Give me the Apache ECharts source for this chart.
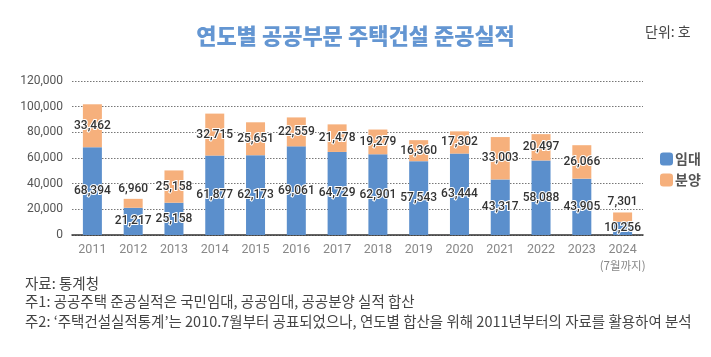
<!DOCTYPE html>
<html><head><meta charset="utf-8">
<script src="https://cdn.jsdelivr.net/npm/echarts@6/dist/echarts.min.js"></script>
<style>html,body{margin:0;padding:0;background:#fff}#c{width:711px;height:357px}</style>
</head><body><div id="c"></div>
<script>
const years = ['2011','2012','2013','2014','2015','2016','2017','2018','2019','2020','2021','2022','2023','2024'];
const rental = [68394, 21217, 25158, 61877, 62173, 69061, 64729, 62901, 57543, 63444, 43317, 58088, 43905, 10256];
const sale = [33462, 6960, 25158, 32715, 25651, 22559, 21478, 19279, 16360, 17302, 33003, 20497, 26066, 7301];
const saleLabelTop = ['2012','2024'];
const yTicks = [0, 20000, 40000, 60000, 80000, 100000, 120000];

const FONT = 'Roboto, "Noto Sans CJK KR", sans-serif';
const KFONT = '"Noto Sans CJK KR", sans-serif';
const labelStyle = {
  show: true, position: 'inside', color: '#333', fontSize: 12, fontFamily: FONT, fontWeight: 500,
  textBorderColor: '#fff', textBorderWidth: 2,
  formatter: p => p.value.toLocaleString('en-US')
};
const chart = echarts.init(document.getElementById('c'));
chart.setOption({
  animation: false,
  title: {
    text: '연도별 공공부문 주택건설 준공실적', left: 'center', top: 20,
    textStyle: { color: '#6496d2', fontSize: 22, fontWeight: 900, fontFamily: KFONT }
  },
  legend: {
    orient: 'vertical', left: 655, top: 147, itemWidth: 13, itemHeight: 13, itemGap: 7,
    textStyle: { color: '#555', fontSize: 14, fontWeight: 'bold', fontFamily: KFONT, padding: [0,0,0,-3] },
    data: ['임대', '분양']
  },
  grid: { left: 72, right: 68, top: 81, bottom: 122 },
  xAxis: {
    type: 'category', data: years,
    axisLine: { lineStyle: { color: '#333', width: 1.5 } },
    axisTick: { show: false },
    axisLabel: {
      interval: 0,
      color: '#888', fontSize: 12.5, fontFamily: FONT, margin: 7, lineHeight: 16,
      formatter: v => v === '2024' ? '2024\n{s|(7월까지)}' : v,
      rich: { s: { fontSize: 11.5, color: '#888', fontFamily: KFONT, lineHeight: 16 } }
    }
  },
  yAxis: {
    type: 'value', min: 0, max: 120000, interval: 20000,
    axisLine: { show: false }, axisTick: { show: false },
    axisLabel: { color: '#555', fontSize: 12, fontFamily: FONT, margin: 9,
      formatter: v => yTicks.includes(v) ? v.toLocaleString('en-US') : '' },
    splitLine: { lineStyle: { type: [1.5, 1.5], color: '#777', width: 1 } }
  },
  series: [
    { name: '임대', type: 'bar', stack: 't', barWidth: 19, data: rental,
      itemStyle: { color: '#5b8fcc' }, label: labelStyle },
    { name: '분양', type: 'bar', stack: 't', barWidth: 19,
      data: sale.map((v, i) => saleLabelTop.includes(years[i]) ? { value: v, label: { position: 'top', distance: 4 } } : v),
      itemStyle: { color: '#f6b07c' }, label: labelStyle }
  ],
  graphic: [
    { type: 'text', left: 645, top: 25, style: { text: '단위: 호', fill: '#444', fontSize: 14, fontFamily: KFONT } },
    { type: 'text', left: 25, top: 276, style: { text: '자료: 통계청', fill: '#444', fontSize: 14.5, fontFamily: KFONT } },
    { type: 'text', left: 25, top: 294, style: { text: '주1: 공공주택 준공실적은 국민임대, 공공임대, 공공분양 실적 합산', fill: '#444', fontSize: 14.5, fontFamily: KFONT } },
    { type: 'text', left: 25, top: 314, style: { text: '주2: ‘주택건설실적통계’는 2010.7월부터 공표되었으나, 연도별 합산을 위해 2011년부터의 자료를 활용하여 분석', fill: '#444', fontSize: 14.5, fontFamily: KFONT } }
  ]
});
</script></body></html>
